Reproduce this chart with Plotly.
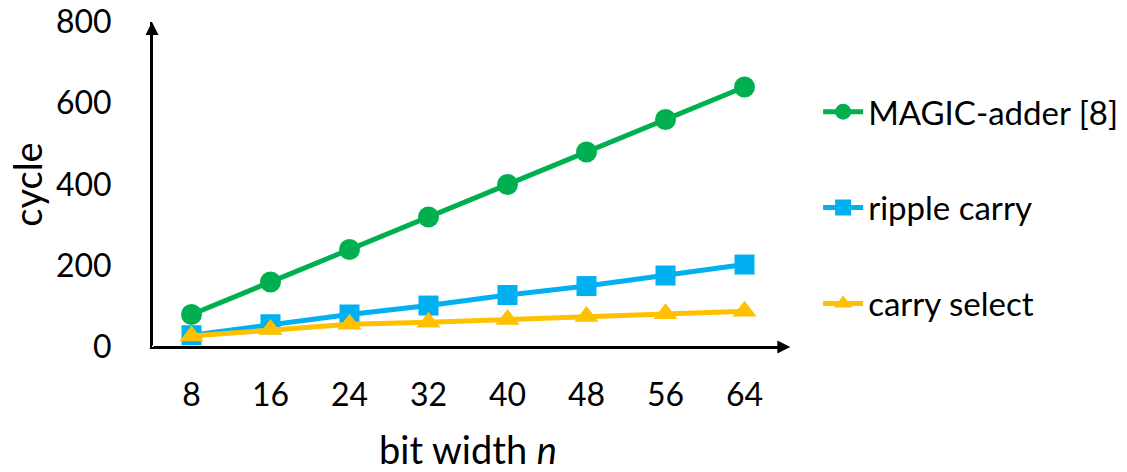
import plotly.graph_objects as go

# bit widths on the x axis
bit_widths = ["8", "16", "24", "32", "40", "48", "56", "64"]

# cycle counts per adder design
magic_adder = [80, 160, 240, 320, 400, 480, 560, 640]
ripple_carry = [29, 56, 80, 102, 128, 150, 176, 203]
carry_select = [27, 43, 56, 61, 68, 75, 82, 88]

y_ticks = [0, 200, 400, 600, 800]

FONT = "Lato"

series = [
    ("MAGIC-adder [8]", magic_adder, "#00B050", "circle", 21),
    ("ripple carry", ripple_carry, "#00B0F0", "square", 20),
    ("carry select", carry_select, "#FFC000", "triangle-up", 21),
]

fig = go.Figure()
for i, (name, vals, color, symbol, msize) in enumerate(series):
    fig.add_trace(go.Scatter(
        x=bit_widths, y=vals, name=name, mode="lines+markers",
        line=dict(color=color, width=5),
        marker=dict(color=color, symbol=symbol, size=msize),
        legendgroup=f"g{i}",
    ))

fig.update_layout(
    width=1127, height=472,
    margin=dict(l=152, r=343, t=22, b=125, autoexpand=False),
    paper_bgcolor="white", plot_bgcolor="white",
    font=dict(family=FONT, size=32, color="black"),
    showlegend=True,
    legend=dict(
        x=1.054, xanchor="left", y=0.81, yanchor="top",
        font=dict(family=FONT, size=33, color="black"),
        tracegroupgap=50, itemwidth=40,
        bgcolor="rgba(0,0,0,0)",
    ),
    xaxis=dict(
        type="category", range=[-0.5, 7.5], automargin=False,
        showgrid=False, zeroline=False, showline=True,
        linecolor="black", linewidth=2, ticks="",
        ticklabelstandoff=19,
        tickfont=dict(family=FONT, size=32),
        title=dict(text="bit width <i>n</i>", font=dict(family=FONT, size=38), standoff=29),
    ),
    yaxis=dict(
        range=[0, 800], tickvals=y_ticks, automargin=False,
        showgrid=False, zeroline=False, showline=True,
        linecolor="black", linewidth=2, ticks="",
        ticklabelstandoff=32,
        tickfont=dict(family=FONT, size=32),
        title=dict(text="cycle", font=dict(family=FONT, size=38), standoff=2),
    ),
)

# arrowheads at the ends of both axes
fig.add_annotation(
    xref="x domain", yref="y domain", x=0, y=1.0,
    axref="x domain", ayref="y domain", ax=0, ay=0,
    showarrow=True, arrowhead=2, arrowsize=1.3, arrowwidth=2, arrowcolor="black", text="",
)
fig.add_annotation(
    xref="x domain", yref="y domain", x=1.01, y=0,
    axref="x domain", ayref="y domain", ax=0, ay=0,
    showarrow=True, arrowhead=2, arrowsize=1.3, arrowwidth=2, arrowcolor="black", text="",
)

fig.write_html("out.html")
